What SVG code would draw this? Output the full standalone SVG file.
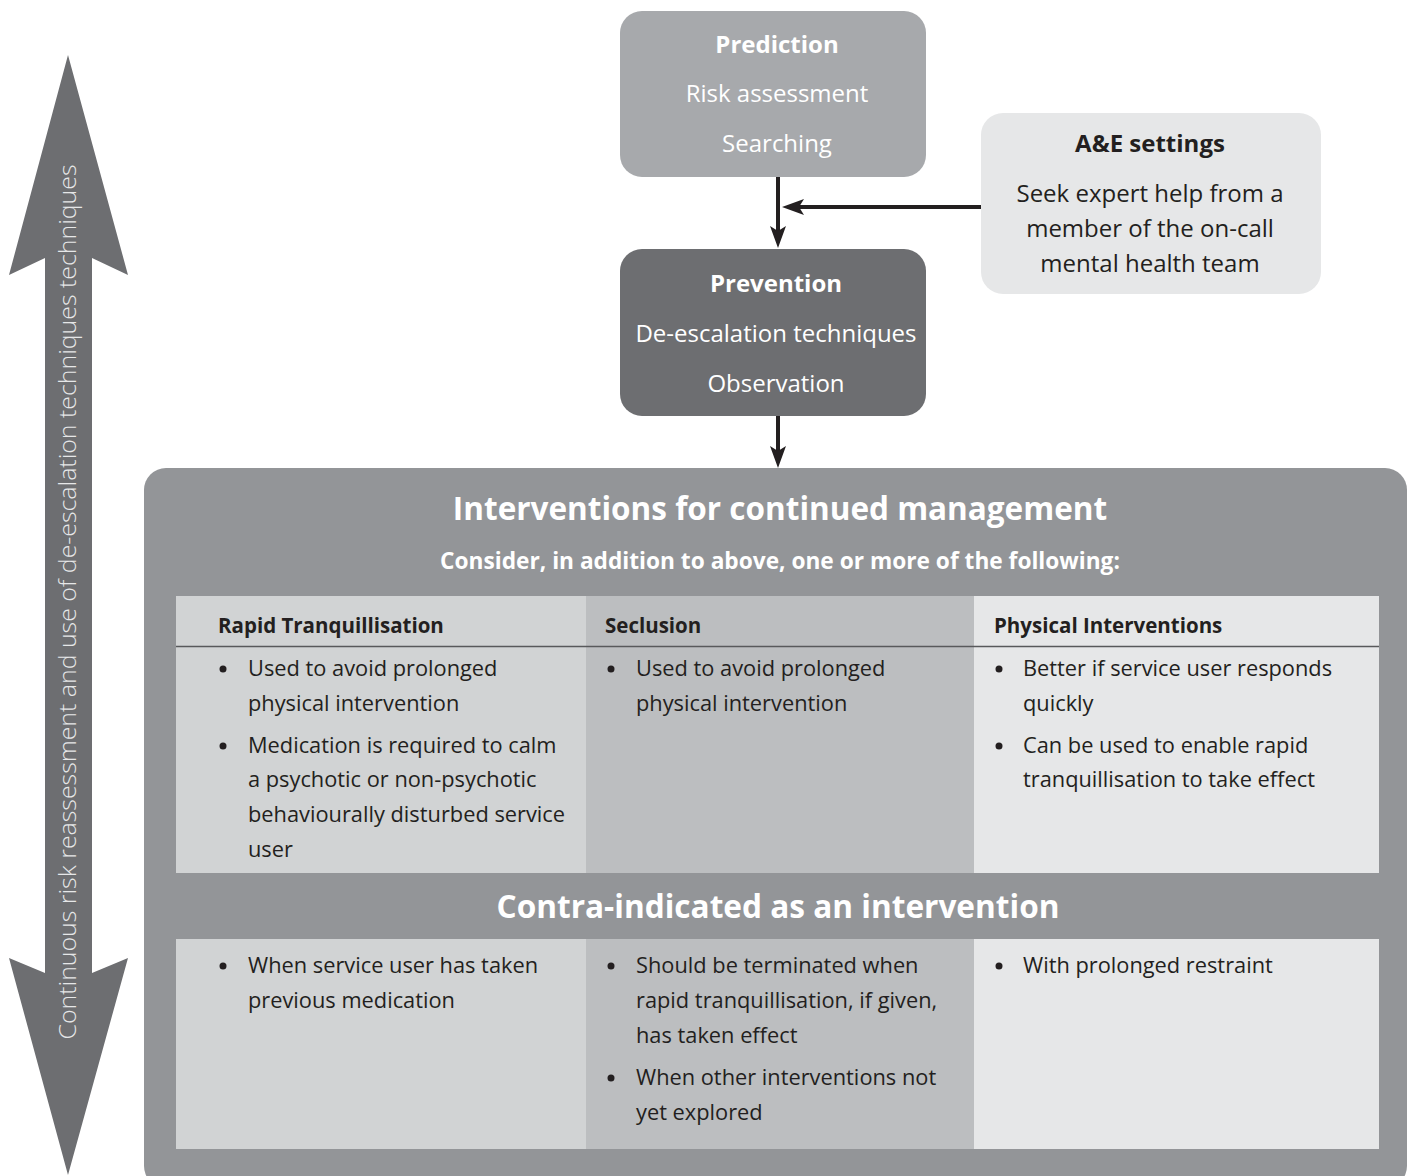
<svg xmlns="http://www.w3.org/2000/svg" width="1413" height="1176" viewBox="0 0 1413 1176">
<defs>
<style>
text{font-family:"Open Sans","Noto Sans","Liberation Sans",sans-serif;}
.wt{fill:#ffffff;font-size:24px;text-anchor:middle;}
.b{font-weight:bold;}
.dk{fill:#231f20;font-size:24px;text-anchor:middle;}
.hd{fill:#231f20;font-size:20.5px;font-weight:bold;}
.bd{fill:#231f20;font-size:21.8px;}
.ttl{fill:#ffffff;font-weight:bold;text-anchor:middle;}
.conn{stroke:#231f20;stroke-width:4;fill:none;}
.head{fill:#231f20;}
.dot{fill:#231f20;}
</style>
</defs>
<rect width="1413" height="1176" fill="#ffffff"/>

<g id="side-arrow">
<path d="M68,55 L128,275 L92,258 L92,973 L128,958 L68,1175 L9,958 L45,973 L45,258 L9,275 Z" fill="#6d6e71"/>
<text transform="translate(76,602) rotate(-90)" textLength="875" lengthAdjust="spacingAndGlyphs" style="fill:#e6e7e8;font-size:24px;font-weight:300;text-anchor:middle;">Continuous risk reassessment and use of de-escalation techniques techniques</text>
</g>

<g id="prediction">
<rect x="620" y="11" width="306" height="166" rx="22" fill="#a7a9ac"/>
<text class="wt b" x="777" y="53">Prediction</text>
<text class="wt" x="777" y="102">Risk assessment</text>
<text class="wt" x="777" y="152">Searching</text>
</g>

<g id="prevention">
<rect x="620" y="249" width="306" height="167" rx="22" fill="#6d6e71"/>
<text class="wt b" x="776" y="292">Prevention</text>
<text class="wt" x="776" y="342">De-escalation techniques</text>
<text class="wt" x="776" y="392">Observation</text>
</g>

<g id="ae-settings">
<rect x="981" y="113" width="340" height="181" rx="22" fill="#e6e7e8"/>
<text class="dk b" x="1150" y="152">A&amp;E settings</text>
<text class="dk" x="1150" y="202">Seek expert help from a</text>
<text class="dk" x="1150" y="237">member of the on-call</text>
<text class="dk" x="1150" y="272">mental health team</text>
</g>

<g id="connectors">
<line class="conn" x1="778" y1="177" x2="778" y2="236"/>
<path class="head" d="M778,248 L770,226 L778,231 L786,226 Z"/>
<line class="conn" x1="981" y1="207" x2="794" y2="207"/>
<path class="head" d="M782,207 L804,199 L799,207 L804,215 Z"/>
<line class="conn" x1="778" y1="416" x2="778" y2="456"/>
<path class="head" d="M778,468 L770,446 L778,451 L786,446 Z"/>
</g>

<g id="interventions">
<rect x="144" y="468" width="1263" height="720" rx="22" fill="#939598"/>
<text class="ttl" x="780" y="520" style="font-size:31.5px;">Interventions for continued management</text>
<text class="ttl" x="780" y="569" style="font-size:22.7px;">Consider, in addition to above, one or more of the following:</text>

<rect x="176" y="596" width="410" height="277" fill="#d1d3d4"/>
<rect x="586" y="596" width="388" height="277" fill="#bcbec0"/>
<rect x="974" y="596" width="405" height="277" fill="#e6e7e8"/>
<line x1="176" y1="646.5" x2="1379" y2="646.5" stroke="#58595b" stroke-width="1.5"/>

<text class="ttl" x="778" y="918" style="font-size:31.6px;">Contra-indicated as an intervention</text>

<rect x="176" y="939" width="410" height="210" fill="#d1d3d4"/>
<rect x="586" y="939" width="388" height="210" fill="#bcbec0"/>
<rect x="974" y="939" width="405" height="210" fill="#e6e7e8"/>
</g>

<g id="rapid-tranquillisation">
<text class="hd" x="218" y="633">Rapid Tranquillisation</text>
<circle class="dot" cx="223" cy="669" r="3.5"/>
<text class="bd" x="248" y="676">Used to avoid prolonged</text>
<text class="bd" x="248" y="711">physical intervention</text>
<circle class="dot" cx="223" cy="746" r="3.5"/>
<text class="bd" x="248" y="753">Medication is required to calm</text>
<text class="bd" x="248" y="787">a psychotic or non-psychotic</text>
<text class="bd" x="248" y="822">behaviourally disturbed service</text>
<text class="bd" x="248" y="857">user</text>
<circle class="dot" cx="223" cy="966" r="3.5"/>
<text class="bd" x="248" y="973">When service user has taken</text>
<text class="bd" x="248" y="1008">previous medication</text>
</g>

<g id="seclusion">
<text class="hd" x="605" y="633">Seclusion</text>
<circle class="dot" cx="611" cy="669" r="3.5"/>
<text class="bd" x="636" y="676">Used to avoid prolonged</text>
<text class="bd" x="636" y="711">physical intervention</text>
<circle class="dot" cx="611" cy="966" r="3.5"/>
<text class="bd" x="636" y="973">Should be terminated when</text>
<text class="bd" x="636" y="1008">rapid tranquillisation, if given,</text>
<text class="bd" x="636" y="1043">has taken effect</text>
<circle class="dot" cx="611" cy="1078" r="3.5"/>
<text class="bd" x="636" y="1085">When other interventions not</text>
<text class="bd" x="636" y="1120">yet explored</text>
</g>

<g id="physical-interventions">
<text class="hd" x="994" y="633">Physical Interventions</text>
<circle class="dot" cx="999" cy="669" r="3.5"/>
<text class="bd" x="1023" y="676">Better if service user responds</text>
<text class="bd" x="1023" y="711">quickly</text>
<circle class="dot" cx="999" cy="746" r="3.5"/>
<text class="bd" x="1023" y="753">Can be used to enable rapid</text>
<text class="bd" x="1023" y="787">tranquillisation to take effect</text>
<circle class="dot" cx="999" cy="966" r="3.5"/>
<text class="bd" x="1023" y="973">With prolonged restraint</text>
</g>
</svg>
